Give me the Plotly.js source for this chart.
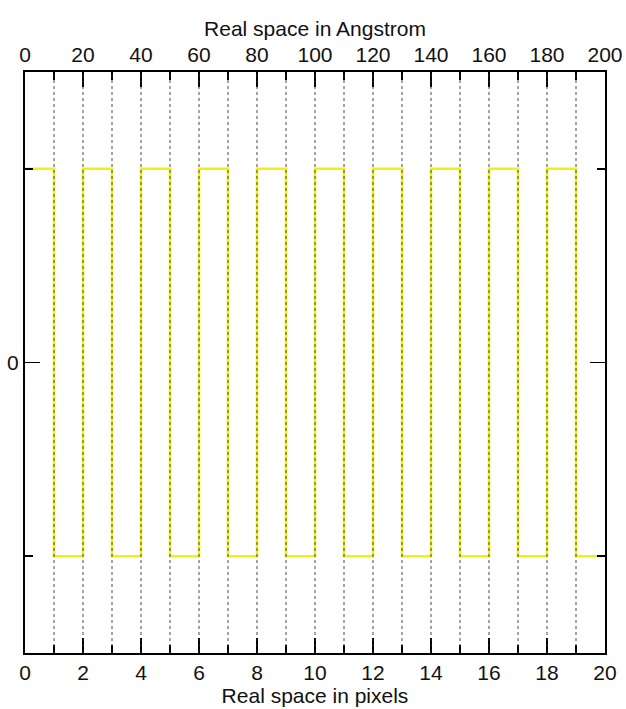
<!DOCTYPE html>
<html>
<head>
<meta charset="utf-8">
<script src="https://cdn.plot.ly/plotly-3.0.1.min.js"></script>
<style>html,body{margin:0;padding:0;background:#fff;}#chart{width:626px;height:709px;}</style>
</head>
<body>
<div id="chart"></div>
<script>
// Square wave in real space (pixels)
const pixelPositions = [0,1,2,3,4,5,6,7,8,9,10,11,12,13,14,15,16,17,18,19,20];
const amplitude      = [1,-1,1,-1,1,-1,1,-1,1,-1,1,-1,1,-1,1,-1,1,-1,1,-1,-1];
// Dotted vertical guide lines (pixel boundaries)
const gridPositions = [1,2,3,4,5,6,7,8,9,10,11,12,13,14,15,16,17,18,19];
// Axis ranges
const pixelRange = [0, 20];
const angstromRange = [0, 200];
const yRange = [-1.5, 1.5];

const font = {family: 'Liberation Sans, Arial, Helvetica, sans-serif', size: 21, color: '#111'};

const trace = {
  x: pixelPositions, y: amplitude, type: 'scatter', mode: 'lines',
  line: {shape: 'hv', color: 'rgb(240,240,20)', width: 2.5},
  xaxis: 'x', yaxis: 'y', hoverinfo: 'skip', showlegend: false
};
// dummy trace to activate top axis
const traceTop = {x: angstromRange, y: [0,0], xaxis: 'x2', yaxis: 'y', mode: 'lines',
  line: {width: 0, color: 'rgba(0,0,0,0)'}, hoverinfo: 'skip', showlegend: false};

const shapes = gridPositions.map(g => ({
  type: 'line', xref: 'x', yref: 'paper', x0: g, x1: g, y0: 0, y1: 1,
  line: {color: 'rgba(40,40,40,0.85)', width: 1, dash: 'dot'}, layer: 'above'
}));

const layout = {
  width: 626, height: 709,
  margin: {l: 25, r: 21, t: 72, b: 56, pad: 0},
  paper_bgcolor: '#fff', plot_bgcolor: '#fff',
  font: font,
  showlegend: false,
  xaxis: {
    range: pixelRange, dtick: 2, tick0: 0, showgrid: false, zeroline: false,
    showline: true, linecolor: '#000', linewidth: 2,
    ticks: 'inside', ticklen: 15, tickwidth: 1.5, tickcolor: '#000',
    minor: {dtick: 1, tick0: 0, ticks: 'inside', ticklen: 8, tickwidth: 1.5, tickcolor: '#000', showgrid: false},
    tickfont: font,
    title: {text: 'Real space in pixels', font: font, standoff: 0},
    fixedrange: true
  },
  xaxis2: {
    overlaying: 'x', side: 'top', anchor: 'y',
    range: angstromRange, dtick: 20, tick0: 0, showgrid: false, zeroline: false,
    showline: true, linecolor: '#000', linewidth: 2,
    ticks: 'inside', ticklen: 15, tickwidth: 1.5, tickcolor: '#000',
    minor: {dtick: 10, tick0: 0, ticks: 'inside', ticklen: 8, tickwidth: 1.5, tickcolor: '#000', showgrid: false},
    tickfont: font,
    title: {text: 'Real space in Angstrom', font: font, standoff: 0},
    fixedrange: true
  },
  yaxis: {
    range: yRange, tickvals: [0], ticktext: ['0'], showgrid: false, zeroline: false,
    showline: true, linecolor: '#000', linewidth: 2, mirror: 'ticks',
    ticks: 'inside', ticklen: 15, tickwidth: 1.5, tickcolor: '#000',
    minor: {tickvals: [-1, 1], ticks: 'inside', ticklen: 8, tickwidth: 1.5, tickcolor: '#000', showgrid: false},
    tickfont: font,
    fixedrange: true
  },
  shapes: shapes
};

Plotly.newPlot('chart', [trace, traceTop], layout, {displayModeBar: false, staticPlot: true});
</script>
</body>
</html>
